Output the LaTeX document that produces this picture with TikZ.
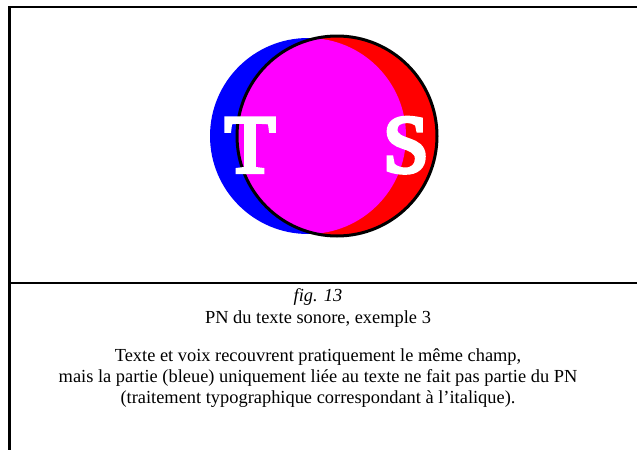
\documentclass[tikz,border=0pt]{standalone}
\usepackage{fontspec}
\setmainfont{Liberation Serif}
\newfontface\tsbold{Liberation Serif}[FakeBold=5]
\definecolor{pmagenta}{RGB}{255,0,255}
\definecolor{pblue}{RGB}{0,0,255}
\definecolor{pred}{RGB}{255,0,0}
\begin{document}
\begin{tikzpicture}[x=1pt,y=-1pt,
  frame/.style={line width=2.6pt,black},
  letter/.style={text=white,font=\tsbold\fontsize{82}{82}\selectfont,inner sep=0pt,anchor=base},
  captext/.style={font=\fontsize{18.4}{21}\selectfont,align=center,inner sep=0pt}]
\useasboundingbox (0,0) rectangle (637,450);
\fill[white] (0,0) rectangle (637,450);
% frame
\coordinate (tl) at (9.5,7);
\coordinate (tr) at (637,7);
\coordinate (bl) at (9.5,450);
\coordinate (ml) at (9.5,283);
\coordinate (mr) at (637,283);
\draw[frame] (tr) -- (tl) -- (bl);
\draw[frame] (ml) -- (mr);
% circles
\coordinate (cb) at (308,136);
\coordinate (cr) at (337,136);
\fill[pblue] (cb) circle[radius=98pt];
\fill[pred] (cr) circle[radius=100pt];
\begin{scope}
  \clip (cb) circle[radius=98pt];
  \fill[pmagenta] (cr) circle[radius=100pt];
\end{scope}
\draw[line width=3pt,black] (cr) circle[radius=100pt];
\node[letter] (T) at (250,172) {T};
\node[letter] (S) at (406,172) {S};
% caption
\node[captext,font=\fontsize{18.4}{21}\selectfont\itshape,anchor=base] (fig) at (318,301) {fig. 13};
\node[captext,anchor=base] (title) at (318,323) {PN du texte sonore, exemple 3};
\node[captext,anchor=base] (d1) at (318,361) {Texte et voix recouvrent pratiquement le même champ,};
\node[captext,anchor=base] (d2) at (318,382) {mais la partie (bleue) uniquement liée au texte ne fait pas partie du PN};
\node[captext,anchor=base] (d3) at (318,403) {(traitement typographique correspondant à l’italique).};
\end{tikzpicture}
\end{document}
